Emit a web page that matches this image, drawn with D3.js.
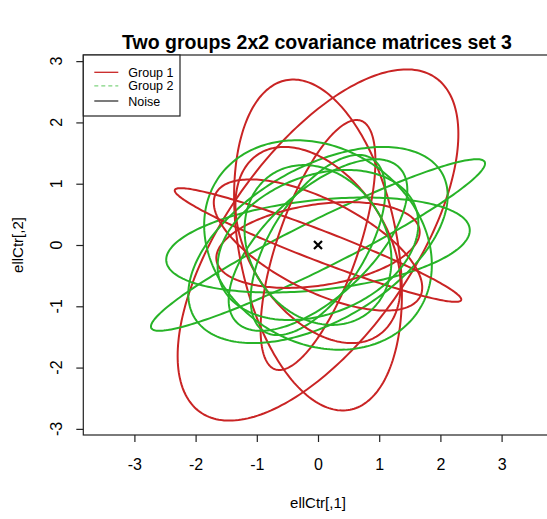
<!DOCTYPE html>
<html>
<head>
<meta charset="utf-8">
<script src="https://cdn.jsdelivr.net/npm/d3@7"></script>
<style>
  html, body { margin: 0; padding: 0; background: #ffffff; }
  svg { display: block; }
  text { font-family: "Liberation Sans", Arial, Helvetica, sans-serif; fill: #000; }
</style>
</head>
<body>
<svg id="chart" width="547" height="519"></svg>
<script>
// Each ellipse is the unit contour of a 2x2 covariance matrix centred on ellCtr.
// Entries are [var1, cov12, var2].
const group1Sigma = [
  [5.26,  4.15, 8.21],
  [1.88, -1.09, 7.29],
  [0.88,  1.285, 4.16],
  [5.48, -2.08, 0.86],
  [2.90, -1.18, 1.145],
  [2.76,  0.35, 0.49],
  [1.82, -0.88, 2.56]
];
const group2Sigma = [
  [7.45,  3.63, 1.96],
  [6.15,  0.595, 0.60],
  [3.46, -0.60, 2.92],
  [4.49,  1.70, 2.56],
  [1.21,  0.97, 2.16],
  [2.13,  1.31, 1.96],
  [2.69,  0.57, 1.50],
  [1.44, -0.30, 1.70]
];
const ellCenter = [0, 0];
const noisePoints = [[0, 0]];

const xTicks = [-3, -2, -1, 0, 1, 2, 3];
const yTicks = [-3, -2, -1, 0, 1, 2, 3];
const legendLabels = ["Group 1", "Group 2", "Noise"];

const titleText = "Two groups 2x2 covariance matrices set 3";
const xLabel = "ellCtr[,1]";
const yLabel = "ellCtr[,2]";

const colGroup1 = "#c92424";
const colGroup2 = "#27b327";
const colLegend2 = "#7fd47f";
const colNoise = "#333333";

const svg = d3.select("#chart");

const plot = { left: 83.3, right: 552.7, top: 55, bottom: 435 };
const x = d3.scaleLinear().domain([-3.835, 3.835]).range([plot.left, plot.right]);
const y = d3.scaleLinear().domain([-3.1, 3.1]).range([plot.bottom, plot.top]);

// points on the contour via the Cholesky factor of the covariance matrix
function ellipsePoints(s) {
  const a = Math.sqrt(s[0]);
  const b = s[1] / a;
  const c = Math.sqrt(Math.max(s[2] - b * b, 1e-6));
  return d3.range(0, 240).map(i => {
    const t = 2 * Math.PI * i / 240;
    return [ellCenter[0] + a * Math.cos(t), ellCenter[1] + b * Math.cos(t) + c * Math.sin(t)];
  });
}

const line = d3.line()
  .x(d => x(d[0]))
  .y(d => y(d[1]))
  .curve(d3.curveLinearClosed);

svg.append("defs").append("clipPath").attr("id", "plotClip")
  .append("rect")
  .attr("x", plot.left).attr("y", plot.top)
  .attr("width", plot.right - plot.left).attr("height", plot.bottom - plot.top);

const ellG = svg.append("g").attr("clip-path", "url(#plotClip)");

// interleave the two groups so neither sits entirely on top
const n = Math.max(group1Sigma.length, group2Sigma.length);
for (let i = 0; i < n; i++) {
  if (i < group1Sigma.length) {
    ellG.append("path")
      .attr("d", line(ellipsePoints(group1Sigma[i])))
      .attr("fill", "none")
      .attr("stroke", colGroup1)
      .attr("stroke-width", 2);
  }
  if (i < group2Sigma.length) {
    ellG.append("path")
      .attr("d", line(ellipsePoints(group2Sigma[i])))
      .attr("fill", "none")
      .attr("stroke", colGroup2)
      .attr("stroke-width", 2);
  }
}

// noise centre marker (x shape)
noisePoints.forEach(p => {
  const cx = x(p[0]), cy = y(p[1]);
  ellG.append("path")
    .attr("d", `M${cx - 4},${cy - 4}L${cx + 4},${cy + 4}M${cx - 4},${cy + 4}L${cx + 4},${cy - 4}`)
    .attr("stroke", "#000").attr("stroke-width", 2.2).attr("fill", "none");
});

// plot frame
svg.append("rect")
  .attr("x", plot.left).attr("y", plot.top)
  .attr("width", plot.right - plot.left).attr("height", plot.bottom - plot.top)
  .attr("fill", "none").attr("stroke", "#222").attr("stroke-width", 1.2);

const fmt = d => d < 0 ? "-" + Math.abs(d) : String(d);

// x axis
const xAxis = d3.axisBottom(x).tickValues(xTicks).tickSize(7).tickPadding(17).tickFormat(fmt);
const gx = svg.append("g").attr("transform", `translate(0,${plot.bottom})`).call(xAxis);
gx.select(".domain").remove();
gx.selectAll(".tick line").attr("stroke", "#222").attr("stroke-width", 1.2);
gx.selectAll(".tick text").attr("font-size", 16).attr("fill", "#000")
  .attr("font-family", "'Liberation Sans', Arial, sans-serif");

// y axis with labels turned parallel to the axis
const yAxis = d3.axisLeft(y).tickValues(yTicks).tickSize(7).tickFormat("");
const gy = svg.append("g").attr("transform", `translate(${plot.left},0)`).call(yAxis);
gy.select(".domain").remove();
gy.selectAll(".tick line").attr("stroke", "#222").attr("stroke-width", 1.2);
svg.append("g").selectAll("text").data(yTicks).join("text")
  .attr("transform", d => `translate(62,${y(d)}) rotate(-90)`)
  .attr("text-anchor", "middle")
  .attr("font-size", 16)
  .text(fmt);

// titles
svg.append("text")
  .attr("x", 317).attr("y", 49)
  .attr("text-anchor", "middle")
  .attr("font-size", 19.5).attr("font-weight", "bold")
  .text(titleText);

svg.append("text")
  .attr("x", x(0)).attr("y", 508)
  .attr("text-anchor", "middle")
  .attr("font-size", 15)
  .text(xLabel);

svg.append("text")
  .attr("transform", `translate(23,${y(0)}) rotate(-90)`)
  .attr("text-anchor", "middle")
  .attr("font-size", 15)
  .text(yLabel);

// legend
const legend = svg.append("g");
legend.append("rect")
  .attr("x", plot.left).attr("y", plot.top)
  .attr("width", 96.7).attr("height", 61)
  .attr("fill", "#fff").attr("stroke", "#222").attr("stroke-width", 1.2);
const legendStyles = [
  { color: colGroup1, dash: null },
  { color: colLegend2, dash: "4,3" },
  { color: colNoise, dash: null }
];
const legendY = [72.3, 85.8, 101];
legendLabels.forEach((lab, i) => {
  legend.append("line")
    .attr("x1", 94.3).attr("x2", 118.3)
    .attr("y1", legendY[i]).attr("y2", legendY[i])
    .attr("stroke", legendStyles[i].color).attr("stroke-width", 1.3)
    .attr("stroke-dasharray", legendStyles[i].dash);
  legend.append("text")
    .attr("x", 128.3).attr("y", legendY[i] + 4.5)
    .attr("font-size", 12.5)
    .text(lab);
});
</script>
</body>
</html>
